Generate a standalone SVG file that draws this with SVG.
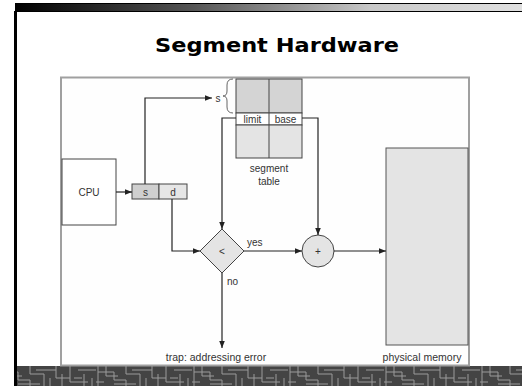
<svg xmlns="http://www.w3.org/2000/svg" width="522" height="386" viewBox="0 0 522 386">
<style>
.lbl{font-family:"Liberation Sans",Arial,sans-serif;font-size:10px;fill:#333;}
.ln{fill:none;stroke:#222;stroke-width:1.2;}
.box{stroke:#444;stroke-width:1;}
</style>
<defs>
<linearGradient id="topg" x1="0" y1="0" x2="1" y2="0">
<stop offset="0" stop-color="#000"/>
<stop offset="0.35" stop-color="#555"/>
<stop offset="0.7" stop-color="#c8c8c8"/>
<stop offset="1" stop-color="#e0e0e0"/>
</linearGradient>
<pattern id="circ" x="0" y="366" width="96" height="20" patternUnits="userSpaceOnUse">
<rect width="96" height="20" fill="#444"/>
<path d="M2 0V20M2 6H18V14H30V20M10 0V10H22M30 0V8H44V20M36 4H56V12H70M50 12V20M0 16H8M56 0V4M18 18H40M62 8V20M70 0V16H88M78 4H96M84 8V20M92 12V20M74 12H82" fill="none" stroke="#9a9a9a" stroke-width="1"/>
</pattern>
<marker id="ah" viewBox="0 0 10 10" refX="10" refY="5" markerWidth="7" markerHeight="7" orient="auto" markerUnits="userSpaceOnUse">
<path d="M0 1L10 5L0 9Z" fill="#222"/>
</marker>
</defs>
<rect width="522" height="386" fill="#fff"/>
<g id="slide-frame">
<rect x="15" y="3" width="507" height="9" fill="url(#topg)"/>
<line x1="15" y1="3.5" x2="522" y2="3.5" stroke="#000" stroke-width="1"/>
<line x1="15" y1="11.5" x2="522" y2="11.5" stroke="#000" stroke-width="1.2"/>
<rect x="14" y="11" width="3" height="356" fill="#000"/>
<rect x="14" y="366" width="508" height="20" fill="url(#circ)"/>
<rect x="14" y="366" width="3" height="20" fill="#000"/>
</g>
<text x="155" y="52" textLength="244" lengthAdjust="spacingAndGlyphs" style="font-family:'DejaVu Sans',Verdana,sans-serif;font-weight:bold;font-size:20px;fill:#000">Segment Hardware</text>
<g id="figure-frame">
<rect x="61" y="77.5" width="408" height="288" fill="#fefefe" stroke="#a0a0a0" stroke-width="2"/>
</g>
<g id="cpu">
<rect x="62" y="159" width="54" height="66" fill="#fff" class="box"/>
<text x="89" y="196" text-anchor="middle" class="lbl">CPU</text>
</g>
<g id="logical-address">
<rect x="132" y="184" width="27" height="15" fill="#cfcfcf" class="box"/>
<rect x="159" y="184" width="28" height="15" fill="#e6e6e6" class="box"/>
<text x="145.5" y="195.5" text-anchor="middle" class="lbl">s</text>
<text x="173" y="195.5" text-anchor="middle" class="lbl">d</text>
</g>
<g id="segment-table">
<rect x="236" y="79" width="66" height="34" fill="#d4d4d4" class="box"/>
<rect x="236" y="113" width="66" height="12" fill="#fff" class="box"/>
<rect x="236" y="125" width="66" height="33" fill="#e4e4e4" class="box"/>
<line x1="269" y1="79" x2="269" y2="158" class="box"/>
<text x="252.5" y="122.5" text-anchor="middle" class="lbl">limit</text>
<text x="285.5" y="122.5" text-anchor="middle" class="lbl">base</text>
<text x="269" y="172" text-anchor="middle" class="lbl">segment</text>
<text x="269" y="185" text-anchor="middle" class="lbl">table</text>
<text x="218" y="101.5" text-anchor="middle" class="lbl">s</text>
<path d="M233 79Q227 79 227 85V91Q227 96 223 96Q227 96 227 101V107Q227 113 233 113" fill="none" stroke="#555" stroke-width="0.9"/>
</g>
<g id="compare">
<path d="M222 229L244 251L222 273L200 251Z" fill="#e4e4e4" class="box"/>
<text x="222" y="255" text-anchor="middle" class="lbl">&lt;</text>
</g>
<g id="adder">
<circle cx="318" cy="251" r="16" fill="#e4e4e4" class="box"/>
<text x="318" y="255" text-anchor="middle" class="lbl">+</text>
</g>
<g id="physical-memory">
<rect x="386" y="148" width="82" height="197" fill="#e4e4e4" stroke="#555" stroke-width="1"/>
<text x="422" y="361" text-anchor="middle" class="lbl" style="font-size:10.5px">physical memory</text>
</g>
<g id="trap">
<text x="216" y="361" text-anchor="middle" class="lbl" style="font-size:10.5px">trap: addressing error</text>
</g>
<g id="connectors">
<path d="M116 192H132" class="ln" marker-end="url(#ah)"/>
<path d="M145 184V98H212" class="ln" marker-end="url(#ah)"/>
<path d="M236 118H222V229" class="ln" marker-end="url(#ah)"/>
<path d="M302 118H318V235" class="ln" marker-end="url(#ah)"/>
<path d="M172 199V251H200" class="ln" marker-end="url(#ah)"/>
<path d="M244 251H302" class="ln" marker-end="url(#ah)"/>
<path d="M334 251H386" class="ln" marker-end="url(#ah)"/>
<path d="M222 273V348" class="ln" marker-end="url(#ah)"/>
<text x="247" y="245.5" class="lbl">yes</text>
<text x="227" y="284.5" class="lbl">no</text>
</g>
</svg>
